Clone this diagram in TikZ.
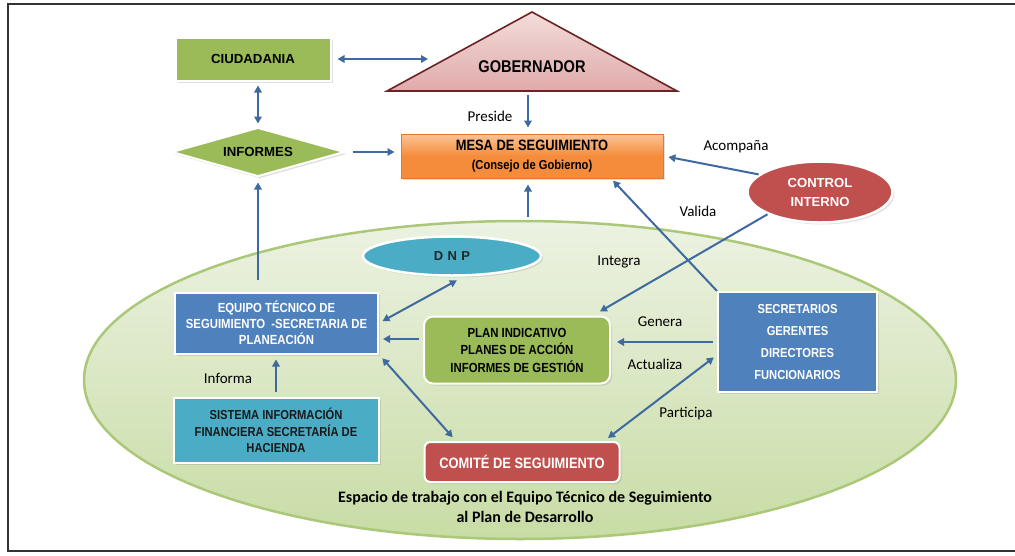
\documentclass[tikz,border=0pt]{standalone}
\usepackage{fontspec}
\setmainfont{Carlito}
\newfontfamily\arialf{Liberation Sans}
\newfontfamily\narrowf{Liberation Sans}[FakeStretch=0.86]
\usetikzlibrary{shapes.geometric,arrows.meta,shadows}
\definecolor{arrblue}{RGB}{62,106,160}
\definecolor{gfill}{RGB}{155,187,89}
\definecolor{bfill}{RGB}{79,129,189}
\definecolor{rfill}{RGB}{192,80,77}
\definecolor{cfill}{RGB}{75,172,198}
\definecolor{otop}{RGB}{251,196,150}
\definecolor{obot}{RGB}{245,140,60}
\definecolor{oline}{RGB}{228,120,50}
\definecolor{ptop}{RGB}{242,220,219}
\definecolor{pbot}{RGB}{224,170,170}
\definecolor{pline}{RGB}{110,35,35}
\definecolor{etop}{RGB}{236,242,226}
\definecolor{ebot}{RGB}{200,220,165}
\definecolor{eline}{RGB}{170,200,120}
\tikzset{
  shd/.style={drop shadow={opacity=0.25,shadow xshift=2pt,shadow yshift=-2pt}},
  nbox/.style={draw=white,line width=2pt,inner sep=0pt,align=center,shd,
    font=\narrowf\bfseries\fontsize{13.2}{16}\selectfont},
  bigf/.style={font=\arialf\bfseries\fontsize{13.2}{16}\selectfont},
  lbl/.style={font=\fontsize{15}{18}\selectfont,inner sep=0pt},
  arr/.style={draw=arrblue,line width=2pt,->},
  dbl/.style={draw=arrblue,line width=2pt,<->},
}
\begin{document}
\begin{tikzpicture}[x=1pt,y=-1pt,>={Triangle[length=7pt,width=7.5pt]}]
\useasboundingbox (0,0) rectangle (1015,555);
% frame
\draw[line width=1.6pt,black!80] (1016,4) -- (8,4) -- (8,551) -- (1016,551);
% working space ellipse
\node[ellipse,draw=eline,line width=2.5pt,top color=etop,bottom color=ebot,
  minimum width=872,minimum height=318,inner sep=0pt] (esp) at (520,380) {};
% governor triangle
\coordinate (gobA) at (532,12);
\coordinate (gobR) at (677,91);
\coordinate (gobLc) at (387,91);
\draw[draw=pline,line width=1.6pt,top color=ptop,bottom color=pbot,line join=miter]
  (gobA) -- (gobR) -- (gobLc) -- cycle;
\node[font=\narrowf\bfseries\fontsize{17}{20}\selectfont] (gob) at (532,67) {GOBERNADOR};
\coordinate (gobL) at (428,59);
\coordinate (gobB) at (528,91);
% nodes
\node[nbox,bigf,fill=gfill,minimum width=155,minimum height=43] (ciu) at (253,59) {CIUDADANIA};
\node[diamond,aspect=3.5,draw=white,line width=2pt,fill=gfill,shd,bigf,inner sep=0pt,
  minimum width=173,minimum height=49] (inf) at (258,152) {INFORMES};
\node[draw=oline,line width=1pt,top color=otop,bottom color=obot,middle color=obot,
  minimum width=262,minimum height=44,inner sep=0pt,align=center,shd,
  font=\narrowf\bfseries\fontsize{15}{19.5}\selectfont] (mesa) at (532,156)
  {MESA DE SEGUIMIENTO\\{\fontsize{13}{14}\selectfont(Consejo de Gobierno)}};
\node[ellipse,draw=white,line width=2.5pt,fill=rfill,shd,text=white,align=center,
  minimum width=145,minimum height=61,inner sep=0pt,
  font=\arialf\bfseries\fontsize{13.1}{19}\selectfont] (ctrl) at (820,192) {CONTROL\\INTERNO};
\node[ellipse,draw=white,line width=2.5pt,fill=cfill,shd,text=black!85,
  minimum width=178,minimum height=39,inner sep=0pt,
  font=\arialf\bfseries\fontsize{13}{14}\selectfont] (dnp) at (452,256) {D\,\,N\,\,P};
\node[nbox,fill=bfill,text=white,minimum width=203,minimum height=61] (eq) at (276.5,323)
  {EQUIPO TÉCNICO DE\\SEGUIMIENTO \ -SECRETARIA DE\\PLANEACIÓN};
\node[nbox,fill=gfill,rounded corners=9pt,minimum width=186,minimum height=67,
  font=\narrowf\bfseries\fontsize{13.2}{17.5}\selectfont] (plan) at (517,350)
  {PLAN INDICATIVO\\PLANES DE ACCIÓN\\INFORMES DE GESTIÓN};
\node[nbox,fill=bfill,text=white,minimum width=159,minimum height=100,
  font=\narrowf\bfseries\fontsize{13}{22.3}\selectfont] (sec) at (797.5,342)
  {SECRETARIOS\\GERENTES\\DIRECTORES\\FUNCIONARIOS};
\node[nbox,fill=cfill,text=black!90,minimum width=205,minimum height=65,
  font=\narrowf\bfseries\fontsize{13}{16.5}\selectfont] (sis) at (276,430.5)
  {SISTEMA INFORMACIÓN\\FINANCIERA SECRETARÍA DE\\HACIENDA};
\node[nbox,fill=rfill,text=white,rounded corners=6pt,minimum width=195,minimum height=40,
  font=\narrowf\bfseries\fontsize{15}{16}\selectfont] (com) at (522,462)
  {COMITÉ DE SEGUIMIENTO};
% connectors
\draw[dbl,shorten <=6pt] (ciu.east) -- (gobL);
\draw[dbl,shorten <=4pt,shorten >=3pt] (inf.north |- ciu.south) -- (inf.north);
\draw[arr,shorten <=7pt,shorten >=6pt] (inf.east) -- (inf.east -| mesa.west);
\draw[arr,shorten <=4pt,shorten >=6pt] (gobB) -- (gobB |- mesa.north);
\draw[arr,shorten <=3pt,shorten >=6pt] (gobB |- esp.north) -- (gobB |- mesa.south);
\draw[arr,shorten <=12pt,shorten >=5pt] (inf.south |- eq.north) -- (inf.south);
\draw[arr,shorten >=5pt] (ctrl.164) -- (mesa.east);
\draw[arr,shorten >=8pt] (ctrl.203) -- ([xshift=-18pt]plan.north east);
\draw[arr,shorten >=3pt] (sec.north west) -- ([xshift=79pt]mesa.south);
\draw[dbl,shorten <=8pt,shorten >=4pt] (dnp.300) -- (eq.east);
\draw[arr,shorten <=4pt,shorten >=4pt] ([yshift=11pt]plan.west) -- ([yshift=11pt]plan.west -| eq.east);
\draw[arr,shorten <=4pt,shorten >=6pt] (sec.west) -- (sec.west -| plan.east);
\draw[dbl,shorten <=4pt,shorten >=5pt] ([yshift=-13pt]sec.west) -- ([xshift=82pt]com.north);
\draw[dbl,shorten <=5pt,shorten >=5pt] (eq.south east) -- ([xshift=-66pt]com.north);
\draw[arr,shorten <=5pt,shorten >=5pt] (sis.north) -- (sis.north |- eq.south);
% labels
\node[lbl] (lpre) at (490,116) {Preside};
\node[lbl] (lacom) at (736,147) {Acompaña};
\node[lbl] (lval) at (698,211) {Valida};
\node[lbl] (lint) at (619,262) {Integra};
\node[lbl] (lgen) at (660,322) {Genera};
\node[lbl] (lact) at (655,364) {Actualiza};
\node[lbl] (lpar) at (686,414) {Participa};
\node[lbl] (linf) at (228,378) {Informa};
\node[align=center,inner sep=0pt,font=\bfseries\fontsize{16}{20}\selectfont] (cap) at (525,507)
  {Espacio de trabajo con el Equipo Técnico de Seguimiento\\al Plan de Desarrollo};
\end{tikzpicture}
\end{document}
